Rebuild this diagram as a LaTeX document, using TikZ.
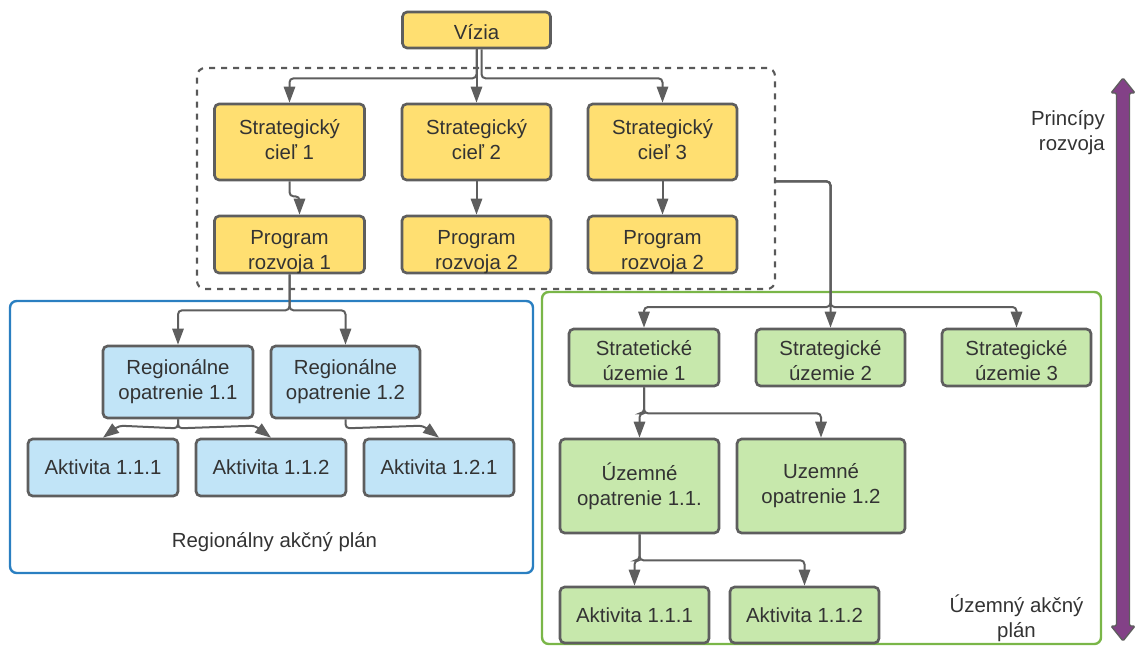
\documentclass[tikz,border=0pt]{standalone}
\usepackage{fontspec}
\setmainfont{Liberation Sans}
\usetikzlibrary{arrows.meta,calc}
\definecolor{yel}{HTML}{FFDF71}
\definecolor{blu}{HTML}{C1E4F7}
\definecolor{grn}{HTML}{C7E8AC}
\definecolor{bord}{HTML}{5E5E5E}
\definecolor{txtc}{HTML}{333333}
\definecolor{bframe}{HTML}{2A7FC1}
\definecolor{gframe}{HTML}{7AB648}
\definecolor{purp}{HTML}{834187}
\definecolor{dashc}{HTML}{595959}
\tikzset{
  box/.style={draw=bord, line width=2pt, rounded corners=3.5pt, align=center,
    text=txtc, inner sep=0pt, font=\fontsize{15.3}{18.75}\selectfont},
  ybox/.style={box, fill=yel},
  bbox/.style={box, fill=blu},
  gbox/.style={box, fill=grn},
  conn/.style={draw=bord, line width=1.5pt, rounded corners=3pt,
    -{Triangle[width=8.5pt,length=12pt]}},
  lbl/.style={text=txtc, align=center, inner sep=0pt, font=\fontsize{15.3}{18.75}\selectfont},
  frame/.style={line width=1.8pt, rounded corners=5pt, inner sep=0pt},
}
\begin{document}
\begin{tikzpicture}[x=0.75pt,y=-0.75pt]
\useasboundingbox (0,0) rectangle (1138,646);

% frames
\node[frame, draw=dashc, dash pattern=on 4.5pt off 4.5pt, line width=1.6pt, rounded corners=6pt,
  minimum width=578*0.75pt, minimum height=221*0.75pt] (dash) at (486,178.5) {};
\node[frame, draw=bframe, minimum width=523*0.75pt, minimum height=272*0.75pt] (bfr) at (271.5,437) {};
\node[frame, draw=gframe, minimum width=559*0.75pt, minimum height=352*0.75pt] (gfr) at (821.5,468) {};

% top
\node[ybox, minimum width=148*0.75pt, minimum height=36*0.75pt,
  label={[lbl,yshift=-1.5pt]center:{Vízia}}] (viz) at (476.5,30) {};
\node[ybox, minimum width=150*0.75pt, minimum height=76*0.75pt,
  label={[lbl,yshift=1.5pt]center:{Strategický\\cieľ 1}}] (c1) at (289.5,142) {};
\node[ybox, minimum width=149*0.75pt, minimum height=76*0.75pt,
  label={[lbl,yshift=1.5pt]center:{Strategický\\cieľ 2}}] (c2) at (476.5,142) {};
\node[ybox, minimum width=149*0.75pt, minimum height=76*0.75pt,
  label={[lbl,yshift=1.5pt]center:{Strategický\\cieľ 3}}] (c3) at (662.5,142) {};
\node[ybox, minimum width=150*0.75pt, minimum height=57*0.75pt,
  label={[lbl,yshift=-5.5pt]center:{Program\\rozvoja 1}}] (p1) at (289.5,244.5) {};
\node[ybox, minimum width=149*0.75pt, minimum height=57*0.75pt,
  label={[lbl,yshift=-5.5pt]center:{Program\\rozvoja 2}}] (p2) at (476.5,244.5) {};
\node[ybox, minimum width=149*0.75pt, minimum height=57*0.75pt,
  label={[lbl,yshift=-5.5pt]center:{Program\\rozvoja 2}}] (p3) at (662.5,244.5) {};

% blue
\node[bbox, minimum width=150*0.75pt, minimum height=72*0.75pt] (r1) at (178,382) {Regionálne\\opatrenie 1.1};
\node[bbox, minimum width=149*0.75pt, minimum height=72*0.75pt] (r2) at (345.5,382) {Regionálne\\opatrenie 1.2};
\node[bbox, minimum width=150*0.75pt, minimum height=57*0.75pt] (a1) at (103,467.5) {Aktivita 1.1.1};
\node[bbox, minimum width=150*0.75pt, minimum height=57*0.75pt] (a2) at (271,467.5) {Aktivita 1.1.2};
\node[bbox, minimum width=150*0.75pt, minimum height=57*0.75pt] (a3) at (439,467.5) {Aktivita 1.2.1};
\node[lbl] (rap) at (274.5,542) {Regionálny akčný plán};

% green
\node[gbox, minimum width=150*0.75pt, minimum height=57*0.75pt,
  label={[lbl,yshift=-2.5pt]center:{Stratetické\\územie 1}}] (g1) at (644,357.5) {};
\node[gbox, minimum width=149*0.75pt, minimum height=57*0.75pt,
  label={[lbl,yshift=-2.5pt]center:{Strategické\\územie 2}}] (g2) at (830.5,357.5) {};
\node[gbox, minimum width=149*0.75pt, minimum height=57*0.75pt,
  label={[lbl,yshift=-2.5pt]center:{Strategické\\územie 3}}] (g3) at (1016.5,357.5) {};
\node[gbox, minimum width=159*0.75pt, minimum height=94*0.75pt] (u1) at (639.5,486) {Územné\\opatrenie 1.1.};
\node[gbox, minimum width=168*0.75pt, minimum height=94*0.75pt] (u2) at (821,486) {Uzemné\\opatrenie 1.2};
\node[gbox, minimum width=149*0.75pt, minimum height=56*0.75pt] (k1) at (634.5,615) {Aktivita 1.1.1};
\node[gbox, minimum width=149*0.75pt, minimum height=56*0.75pt] (k2) at (804.5,615) {Aktivita 1.1.2};
\node[lbl] (uap) at (1016.5,618) {Územný akčný\\plán};

% principles
\node[lbl, align=right, anchor=east] (pr) at (1105,132.5) {Princípy\\rozvoja};
\filldraw[fill=purp, draw=bord, line width=1pt, rounded corners=1pt]
  (1123,78) -- (1135,93) -- (1129.5,93) -- (1129.5,626) -- (1135,626) -- (1123,641)
  -- (1111,626) -- (1116.5,626) -- (1116.5,93) -- (1111,93) -- cycle;

% connectors top
\draw[conn] (viz.south) -- ++(0,29) -| (c1);
\draw[conn] (viz.south) -- (c2.north);
\draw[conn] ($(viz.south)+(5,0)$) -- ++(0,29) -| (c3);
\draw[conn] (c1.south) -- ++(0,15) -| ($(p1.north)+(10,0)$);
\draw[conn] (c2.south) -- (p2.north);
\draw[conn] (c3.south) -- (p3.north);

% blue connectors
\draw[conn] (p1.south) -- ++(0,36) -| (r1);
\draw[conn] (p1.south) -- ++(0,36) -| (r2);
\draw[conn] (r1.south) -- ++(0,9) -- ($(a1.north)+(16,-12)$) -- (a1.north);
\draw[conn] (r1.south) -- ++(0,9) -- ($(a2.north)+(-16,-12)$) -- (a2.north);
\draw[conn] (r2.south) -- ++(0,9) -- ($(a3.north)+(-16,-12)$) -- (a3.north);

% green connectors
\coordinate (gs) at (830.5,307);
\draw[conn] (dash.east |- c3.south) -| (gs) -| (g1);
\draw[conn] (dash.east |- c3.south) -| (g2);
\draw[conn] (dash.east |- c3.south) -| (gs) -| (g3);
\draw[conn] (g1.south) -- ++(0,26) -| (u1);
\draw[conn] (g1.south) -- ++(0,26) -| (u2);
\draw[conn] (u1.south) -- ++(0,26) -| (k1);
\draw[conn] (u1.south) -- ++(0,26) -| (k2);
\end{tikzpicture}
\end{document}
